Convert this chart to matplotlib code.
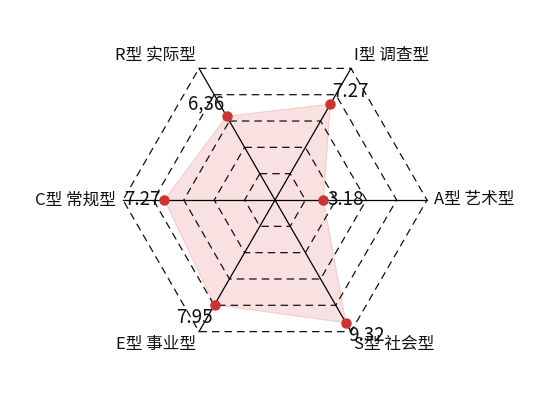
import numpy as np
import matplotlib
matplotlib.use("Agg")
from matplotlib import pyplot as plt

plt.rcParams['font.family'] = ['Noto Sans CJK SC', 'DejaVu Sans']

# categories go clockwise starting at the upper left spoke
categories = ['R型 实际型', 'I型 调查型', 'A型 艺术型', 'S型 社会型', 'E型 事业型', 'C型 常规型']
values = [6.36, 7.27, 3.18, 9.32, 7.95, 7.27]
value_labels = ['6,36', '7.27', '3.18', '9.32', '7.95', '7.27']
angles_deg = [120, 60, 0, -60, -120, 180]
r_max = 10
levels = [2, 4, 6, 8, 10]

ang = np.deg2rad(angles_deg)
cx, sx = np.cos(ang), np.sin(ang)

fig = plt.figure(figsize=(5.5, 4), dpi=100)
ax = fig.add_axes([0, 0, 1, 1])
scale = 15.2  # pixels per unit
ax.set_xlim(-275 / scale, 275 / scale)
ax.set_ylim(-200 / scale, 200 / scale)
ax.set_aspect('equal')
ax.axis('off')

# data polygon (under the grid, like the original)
vx = np.array(values) * cx
vy = np.array(values) * sx
ax.fill(vx, vy, color='#f9e1e1', ec='#f2cccc', lw=0.8, zorder=1)

# dashed hexagon grid
for lv in levels:
    xs = np.append(lv * cx, lv * cx[0])
    ys = np.append(lv * sx, lv * sx[0])
    ax.plot(xs, ys, color='#111111', lw=0.9, ls=(0, (6, 4)), zorder=2)

# spokes
for c, s in zip(cx, sx):
    ax.plot([0, r_max * c], [0, r_max * s], color='black', lw=0.9, zorder=3)

ax.plot(vx, vy, 'o', color='#cc3333', ms=6.5, zorder=4)

def align(c, s):
    ha = 'left' if c > 0.1 else ('right' if c < -0.1 else 'center')
    va = 'bottom' if s > 0.1 else ('top' if s < -0.1 else 'center')
    return ha, va

for i in range(len(values)):
    ha, va = align(cx[i], sx[i])
    ax.annotate(value_labels[i], (vx[i], vy[i]), xytext=(3 * cx[i], 2 * sx[i]),
                textcoords='offset points', ha=ha, va=va, fontsize=13.5,
                color='#111111', zorder=5)
    ax.annotate(categories[i], (r_max * cx[i], r_max * sx[i]),
                xytext=(5 * cx[i], 4 * sx[i]), textcoords='offset points',
                ha=ha, va=va, fontsize=12, color='#111111', zorder=5)

fig.savefig('out.png', dpi=100)
